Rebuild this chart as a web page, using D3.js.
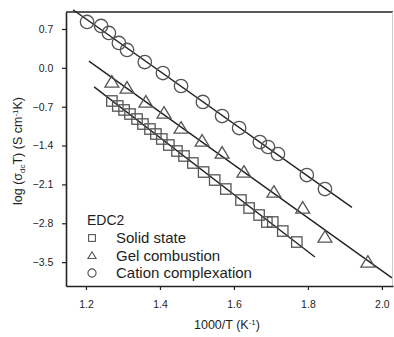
<!DOCTYPE html>
<html>
<head>
<meta charset="utf-8">
<script src="https://cdn.jsdelivr.net/npm/d3@7"></script>
<style>
  body { margin: 0; background: #fff; }
  text { font-family: "Liberation Sans", Arial, sans-serif; fill: #1e1e1e; }
</style>
</head>
<body>
<svg id="chart" width="394" height="337"></svg>
<script>
// data: 1000/T and log(sigma T)
var solidX = [1.270, 1.286, 1.303, 1.319, 1.338, 1.354, 1.373, 1.389, 1.405, 1.424, 1.446, 1.465,
              1.489, 1.518, 1.548, 1.578, 1.619, 1.641, 1.668, 1.689, 1.705, 1.732, 1.770];
var solidY = [-0.597, -0.687, -0.759, -0.832, -0.922, -1.012, -1.102, -1.192, -1.282, -1.390, -1.498, -1.588,
              -1.714, -1.877, -2.021, -2.183, -2.381, -2.525, -2.651, -2.777, -2.777, -2.940, -3.138];
var gelX = [1.270, 1.311, 1.362, 1.411, 1.457, 1.514, 1.568, 1.627, 1.708, 1.786, 1.846, 1.962];
var gelY = [-0.255, -0.363, -0.615, -0.814, -1.084, -1.318, -1.534, -1.877, -2.237, -2.525, -3.048, -3.498];
var cationX = [1.203, 1.241, 1.262, 1.289, 1.311, 1.359, 1.408, 1.457, 1.516, 1.568, 1.614, 1.670,
               1.692, 1.719, 1.797, 1.846];
var cationY = [0.826, 0.754, 0.628, 0.448, 0.322, 0.105, -0.093, -0.327, -0.615, -0.868, -1.084, -1.336,
               -1.426, -1.552, -1.931, -2.183];
// x range covered by each fitted line
var solidFit = [1.222, 1.819];
var gelFit = [1.208, 2.027];
var cationFit = [1.165, 1.919];
var seriesNames = ["Solid state", "Gel combustion", "Cation complexation"];
var xTicks = [1.2, 1.4, 1.6, 1.8, 2.0];
var yTicks = [0.7, 0.0, -0.7, -1.4, -2.1, -2.8, -3.5];

var padL = 66, padR = 393, padT = 12, padB = 286;
var ink = "#222", markInk = "#555";

var svg = d3.select("#chart");
var x = d3.scaleLinear().domain([1.146, 2.03]).range([padL, padR]);
var y = d3.scaleLinear().domain([-3.93, 1.006]).range([padB, padT]);

// least squares fit
function fit(xs, ys) {
    let n = xs.length, mx = d3.mean(xs), my = d3.mean(ys);
    let sxy = 0, sxx = 0;
    for (let i = 0; i < n; i++) {
        sxy += (xs[i] - mx) * (ys[i] - my);
        sxx += (xs[i] - mx) ** 2;
    }
    let b = sxy / sxx;
    return (v) => my + b * (v - mx);
}

function marker(g, shape, s) {
    if (shape == "square") {
        g.append("rect").attr("x", -s).attr("y", -s).attr("width", 2 * s).attr("height", 2 * s);
    } else if (shape == "triangle") {
        let h = s * 1.1;
        g.append("path").attr("d", "M0," + (-h) + "L" + (s * 1.2) + "," + (h * 0.8) + "L" + (-s * 1.2) + "," + (h * 0.8) + "Z");
    } else {
        g.append("circle").attr("r", s * 1.2);
    }
}

// frame
svg.append("line").attr("x1", padL).attr("x2", padR).attr("y1", padT).attr("y2", padT)
    .attr("stroke", ink).attr("stroke-width", 1.6);
svg.append("line").attr("x1", padR - 0.5).attr("x2", padR - 0.5).attr("y1", padT).attr("y2", padB)
    .attr("stroke", "#ccc").attr("stroke-width", 1);

var xAxis = svg.append("g").attr("transform", "translate(0," + padB + ")")
    .call(d3.axisBottom(x).tickValues(xTicks).tickFormat(d3.format(".1f")).tickSize(4).tickSizeOuter(0));
var yAxis = svg.append("g").attr("transform", "translate(" + padL + ",0)")
    .call(d3.axisLeft(y).tickValues(yTicks).tickFormat(d3.format(".1f")).tickSize(4).tickSizeOuter(0));
[xAxis, yAxis].forEach((a) => {
    a.select(".domain").attr("stroke", ink).attr("stroke-width", 1.6);
    a.selectAll(".tick line").attr("stroke", ink).attr("stroke-width", 1.2);
    a.selectAll(".tick text").attr("fill", ink).style("font-size", "10.5px")
        .style("font-family", "Liberation Sans, Arial, sans-serif");
});
xAxis.selectAll(".tick text").attr("dy", "1.45em");
yAxis.selectAll(".tick text").attr("dx", "-0.55em");

// series
var series = [
    {xs: solidX, ys: solidY, range: solidFit, shape: "square", size: 5.2},
    {xs: gelX, ys: gelY, range: gelFit, shape: "triangle", size: 5.8},
    {xs: cationX, ys: cationY, range: cationFit, shape: "circle", size: 5.6}
];
var lineGen = d3.line().x((d) => x(d[0])).y((d) => y(d[1]));
series.forEach((s) => {
    let f = fit(s.xs, s.ys);
    svg.append("path")
        .attr("d", lineGen(s.range.map((v) => [v, f(v)])))
        .attr("stroke", ink).attr("stroke-width", 1.4).attr("fill", "none");
    let pts = svg.append("g").attr("fill", "none").attr("stroke", markInk).attr("stroke-width", 1.3)
        .selectAll("g").data(d3.range(s.xs.length)).enter().append("g")
        .attr("transform", (i) => "translate(" + x(s.xs[i]) + "," + y(s.ys[i]) + ")");
    pts.each(function() { marker(d3.select(this), s.shape, s.size); });
});

// legend
var lg = svg.append("g");
lg.append("text").attr("x", 87).attr("y", 225).style("font-size", "14px").text("EDC2");
seriesNames.forEach((name, i) => {
    let yy = 238 + i * 17.5;
    let m = lg.append("g").attr("transform", "translate(92," + yy + ")")
        .attr("fill", "none").attr("stroke", markInk).attr("stroke-width", 1.1);
    marker(m, series[i].shape, 3.4);
    lg.append("text").attr("x", 116).attr("y", yy + 5).style("font-size", "15px").text(name);
});

// axis titles
svg.append("text").attr("x", 227).attr("y", 329).attr("text-anchor", "middle")
    .style("font-size", "12.5px")
    .html('1000/T (K<tspan dy="-4" font-size="8px">-1</tspan><tspan dy="4">)</tspan>');
svg.append("text").attr("transform", "translate(22,151) rotate(-90)").attr("text-anchor", "middle")
    .style("font-size", "12.5px")
    .html('log (σ<tspan dy="3" font-size="8px">dc</tspan><tspan dy="-3">T) (S cm</tspan><tspan dy="-4" font-size="8px">-1</tspan><tspan dy="4">K)</tspan>');
</script>
</body>
</html>
